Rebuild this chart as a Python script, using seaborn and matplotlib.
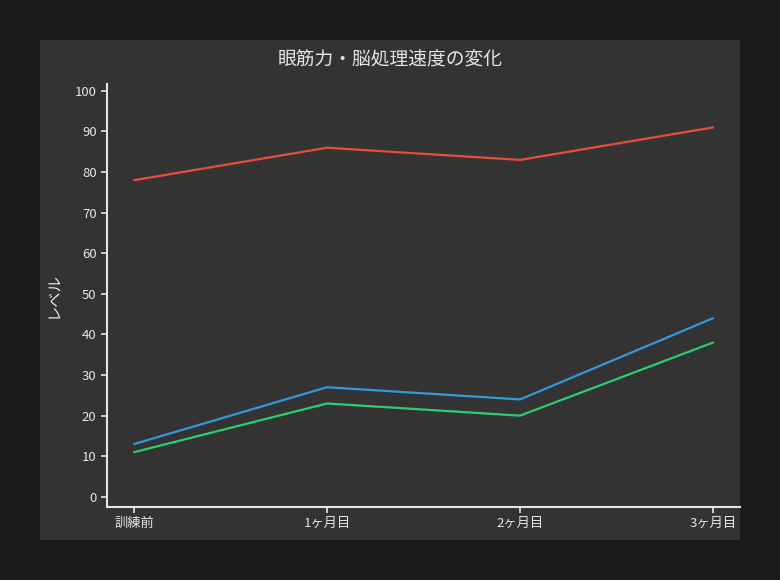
import seaborn as sns
import pandas as pd
import matplotlib.pyplot as plt
from matplotlib.patches import Rectangle

periods = ['訓練前', '1ヶ月目', '2ヶ月目', '3ヶ月目']
series_a = [78, 86, 83, 91]
series_b = [13, 27, 24, 44]
series_c = [11, 23, 20, 38]
names = ['A', 'B', 'C']
colors = ['#e74c3c', '#3498db', '#2ecc71']

rows = []
for name, vals in zip(names, [series_a, series_b, series_c]):
    for i, v in enumerate(vals):
        rows.append([name, i, v])
df = pd.DataFrame(rows, columns=['series', 'x', 'value'])

sns.set_theme(style='dark')
plt.rcParams['font.family'] = ['Noto Sans CJK JP', 'DejaVu Sans']

fig = plt.figure(figsize=(7.8, 5.8), dpi=100)
fig.patch.set_facecolor('#1b1b1b')
fig.add_artist(Rectangle((40/780, 40/580), 700/780, 500/580, transform=fig.transFigure,
                         facecolor='#333333', edgecolor='none', zorder=0))

ax = fig.add_axes([107/780, 1-507/580, 633/780, 423/580])
ax.set_facecolor('none')
sns.lineplot(data=df, x='x', y='value', hue='series', palette=colors,
             linewidth=1.6, legend=False, ax=ax)

ax.set_xlim(-0.14, 3.14)
ax.set_ylim(-2.5, 101.7)
ax.set_xticks(range(len(periods)))
ax.set_xticklabels(periods)
ax.set_yticks(range(0, 101, 10))
ax.set_xlabel('')
ax.set_ylabel('レベル', color='#e6e6e6', fontsize=11)
ax.yaxis.set_label_coords(-0.072, 0.5)
ax.grid(False)

for s in ['top', 'right']:
    ax.spines[s].set_visible(False)
for s in ['left', 'bottom']:
    ax.spines[s].set_visible(True)
    ax.spines[s].set_color('#e6e6e6')
    ax.spines[s].set_linewidth(1.5)
ax.tick_params(colors='#e6e6e6', labelcolor='#e6e6e6', labelsize=9.5,
               length=4, width=1.2, direction='out', left=True, bottom=True)

fig.text(390/780, 1-60/580, '眼筋力・脳処理速度の変化', ha='center', va='center',
         color='#e6e6e6', fontsize=13.5)

fig.savefig('out.png', dpi=100, facecolor=fig.get_facecolor())
